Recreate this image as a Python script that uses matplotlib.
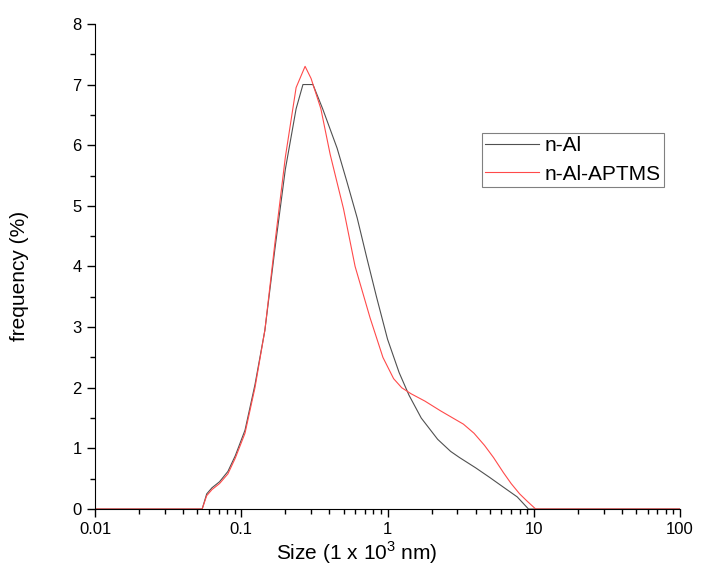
import matplotlib.pyplot as plt
import matplotlib as mpl
from matplotlib.ticker import LogLocator, NullFormatter, FixedLocator
import numpy as np

mpl.rcParams["font.family"] = "Liberation Sans"
mpl.rcParams["mathtext.fontset"] = "custom"
mpl.rcParams["mathtext.rm"] = "Liberation Sans"

# size in 1e3 nm, frequency in %
al_size = [0.01, 0.054, 0.058, 0.063, 0.071, 0.081, 0.091, 0.106, 0.124, 0.145, 0.17, 0.2, 0.237,
           0.264, 0.309, 0.36, 0.452, 0.527, 0.62, 0.72, 0.84, 1.0, 1.2, 1.4, 1.7, 2.2, 2.7, 3.1,
           4.0, 5.0, 6.2, 7.7, 9.2, 100]
al_freq = [0.0, 0.0, 0.25, 0.35, 0.45, 0.62, 0.88, 1.3, 2.05, 2.95, 4.3, 5.6, 6.6,
           7.0, 7.0, 6.6, 5.95, 5.4, 4.8, 4.15, 3.5, 2.8, 2.25, 1.88, 1.5, 1.15, 0.95, 0.85,
           0.68, 0.52, 0.36, 0.2, 0.0, 0.0]

aptms_size = [0.01, 0.054, 0.058, 0.063, 0.071, 0.081, 0.091, 0.106, 0.124, 0.145, 0.17, 0.2, 0.237,
              0.273, 0.3, 0.35, 0.405, 0.5, 0.6, 0.76, 0.93, 1.1, 1.25, 1.45, 1.8, 2.3, 2.8, 3.3,
              3.9, 4.6, 5.3, 6.2, 7.0, 8.0, 9.0, 10.3, 100]
aptms_freq = [0.0, 0.0, 0.22, 0.32, 0.42, 0.58, 0.84, 1.25, 2.0, 2.95, 4.4, 5.8, 6.95,
              7.3, 7.1, 6.6, 5.85, 4.95, 4.0, 3.15, 2.5, 2.15, 2.0, 1.9, 1.78, 1.62, 1.5, 1.4,
              1.25, 1.05, 0.85, 0.6, 0.42, 0.25, 0.13, 0.0, 0.0]

fig = plt.figure(figsize=(7.04, 5.69), dpi=100)
ax = fig.add_axes([0.135, 0.1054, 0.831, 0.8526])

ax.plot(al_size, al_freq, color="#505050", linewidth=0.8, label="n-Al")
ax.plot(aptms_size, aptms_freq, color="#ff4a4a", linewidth=0.8, label="n-Al-APTMS")

ax.set_xscale("log")
ax.set_xlim(0.01, 100)
ax.set_ylim(0, 8)
ax.set_xticks([0.01, 0.1, 1, 10, 100])
ax.set_xticklabels(["0.01", "0.1", "1", "10", "100"])
ax.xaxis.set_minor_locator(LogLocator(base=10, subs=np.arange(2, 10)))
ax.xaxis.set_minor_formatter(NullFormatter())
ax.set_yticks(np.arange(0, 9, 1))
ax.yaxis.set_minor_locator(FixedLocator(np.arange(0.5, 8, 1)))

ax.spines["right"].set_visible(False)
ax.spines["top"].set_visible(False)
ax.tick_params(which="major", direction="out", length=6, width=1, labelsize=12)
ax.tick_params(which="minor", direction="out", length=3.5, width=1)

ax.set_xlabel(r"Size (1 x 10$^{3}$ nm)", fontsize=15)
ax.xaxis.set_label_coords(0.448, -0.062)
ax.set_ylabel("frequency (%)", fontsize=15)
ax.yaxis.set_label_coords(-0.113, 0.48)

leg = ax.legend(loc="upper right", bbox_to_anchor=(0.9726, 0.775), fontsize=15, fancybox=False,
                framealpha=1, edgecolor="#808080", handlelength=2.55, handletextpad=0.3,
                borderpad=0.15, labelspacing=0.45, borderaxespad=0)
leg.get_frame().set_linewidth(0.8)

plt.savefig("out.png", dpi=100)
